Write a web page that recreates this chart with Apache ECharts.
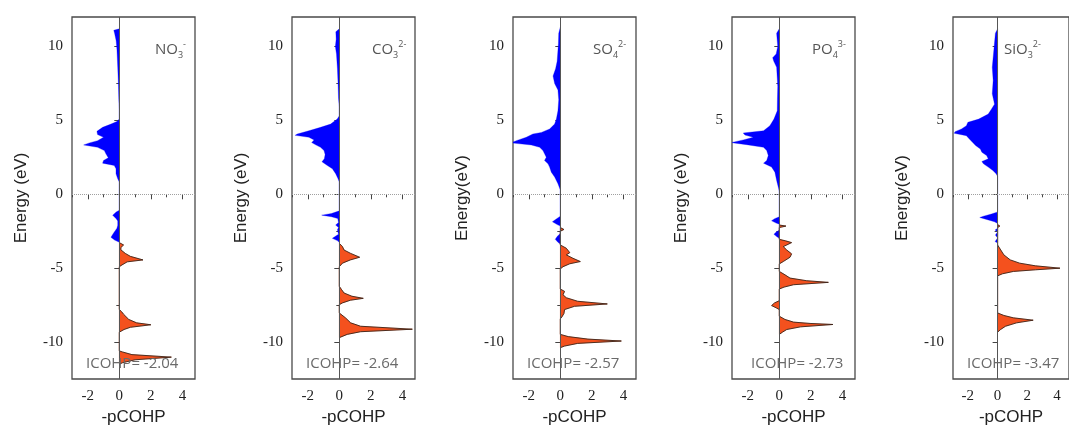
<!DOCTYPE html>
<html>
<head>
<meta charset="utf-8">
<script src="https://cdn.jsdelivr.net/npm/echarts@6/dist/echarts.min.js"></script>
<style>html,body{margin:0;padding:0;background:#fff;}#c{width:1069px;height:432px;}</style>
</head>
<body>
<div id="c"></div>
<script>
// ---- data: [ -pCOHP , Energy (eV) ] ----
const no3Blue = [[0,11.2],[-0.35,11.1],[-0.3,10.9],[-0.2,10.4],[-0.15,9.8],[-0.1,8.6],[-0.06,7.5],[-0.03,6.4],[0,5.7],
  [0,5.1],[-0.15,4.93],[-0.53,4.75],[-1.06,4.53],[-1.42,4.26],[-1.38,4.04],[-1.0,3.86],[-1.38,3.63],[-1.9,3.48],[-2.26,3.34],[-1.38,3.18],[-0.95,2.96],[-0.85,2.74],[-0.7,2.47],[-1.0,2.29],[-1.06,2.11],[-0.32,1.95],[-0.21,1.73],[-0.21,1.39],[-0.1,1.05],[0,0.83],
  [0,-1.08],[-0.2,-1.2],[-0.42,-1.41],[-0.2,-1.65],[-0.1,-1.8],[-0.1,-2.1],[-0.15,-2.3],[-0.35,-2.6],[-0.53,-2.91],[-0.3,-3.1],[0,-3.25]];
const no3Orange = [[0,-3.27],[0.27,-3.43],[0.1,-3.6],[0.1,-3.76],[0.38,-4.0],[0.7,-4.2],[1.5,-4.44],[0.5,-4.57],[0.17,-4.78],[0,-4.9],
  [0,-7.8],[0.15,-7.95],[0.28,-8.13],[0.6,-8.47],[1.1,-8.7],[2.0,-8.83],[0.7,-9.0],[0.3,-9.15],[0,-9.33],
  [0,-10.6],[0.2,-10.67],[0.8,-10.85],[3.3,-11.02],[1.0,-11.2],[0.2,-11.4],[0,-11.5]];

const co3Blue = [[0,11.2],[-0.22,11.0],[-0.2,10.5],[-0.25,10.0],[-0.18,9.5],[-0.12,8.5],[-0.08,7.5],[-0.05,6.5],[0,5.9],
  [0,5.31],[-0.13,5.09],[-0.55,4.75],[-1.19,4.53],[-1.93,4.3],[-2.67,4.08],[-2.8,3.99],[-1.93,3.86],[-1.6,3.68],[-1.75,3.5],[-1.5,3.35],[-1.19,3.18],[-0.97,2.96],[-0.9,2.7],[-0.95,2.4],[-1.1,2.2],[-0.76,1.95],[-0.44,1.73],[-0.23,1.39],[-0.08,1.05],[0,0.83],
  [0,-1.12],[-0.5,-1.3],[-1.12,-1.41],[-0.5,-1.52],[-0.1,-1.64],[-0.05,-1.9],[-0.23,-2.08],[-0.05,-2.25],[-0.12,-2.4],[-0.05,-2.7],[-0.44,-2.98],[-0.1,-3.15],[0,-3.27]];
const co3Orange = [[0,-3.32],[0.2,-3.54],[0.3,-3.77],[0.72,-4.0],[1.29,-4.26],[0.7,-4.44],[0.2,-4.66],[0,-4.9],
  [0,-6.23],[0.15,-6.46],[0.3,-6.68],[0.8,-6.9],[1.52,-7.04],[0.7,-7.17],[0.2,-7.35],[0,-7.47],
  [0,-8.03],[0.4,-8.37],[0.72,-8.7],[1.35,-8.93],[4.63,-9.13],[1.35,-9.3],[0.5,-9.48],[0,-9.7]];

const so4Blue = [[0,11.3],[-0.1,10.9],[-0.12,10.2],[-0.15,9.75],[-0.2,9.0],[-0.3,8.5],[-0.46,8.0],[-0.36,7.5],[-0.15,7.06],[-0.1,6.4],[-0.15,5.65],[-0.25,5.09],[-0.36,4.75],[-0.68,4.42],[-1.2,4.19],[-1.74,4.08],[-2.16,3.86],[-2.79,3.63],[-3.15,3.48],[-1.84,3.34],[-1.31,3.18],[-1.1,2.96],[-1.0,2.74],[-0.89,2.51],[-1.0,2.29],[-0.78,2.06],[-0.68,1.84],[-0.57,1.5],[-0.36,1.17],[-0.15,0.72],[0,0.29],
  [0,-1.48],[-0.3,-1.7],[-0.5,-1.86],[-0.2,-2.05],[0,-2.15],
  [0,-2.65],[-0.2,-2.85],[-0.32,-3.05],[-0.15,-3.25],[0,-3.36]];
const so4Orange = [[0,-2.25],[0.23,-2.38],[0,-2.5],
  [0,-3.43],[0.38,-3.65],[0.6,-3.95],[0.38,-4.1],[0.8,-4.33],[1.27,-4.55],[0.6,-4.7],[0.17,-4.9],[0,-5.05],
  [0,-6.41],[0.27,-6.57],[0.17,-6.8],[0.38,-7.0],[1.1,-7.24],[2.98,-7.42],[0.9,-7.58],[0.27,-7.8],[0.23,-8.07],[0.1,-8.3],[0,-8.43],
  [0,-9.48],[0.5,-9.63],[1.75,-9.8],[3.87,-9.93],[1.1,-10.09],[0.27,-10.27],[0,-10.38]];

const po4Blue = [[0,11.2],[-0.17,10.9],[-0.1,10.0],[-0.2,9.5],[-0.42,9.25],[-0.35,9.0],[-0.17,8.6],[-0.1,7.3],[-0.12,6.4],[-0.13,5.65],[-0.34,5.09],[-0.6,4.64],[-1.0,4.3],[-2.29,4.15],[-2.18,4.01],[-1.65,3.86],[-2.29,3.68],[-3.05,3.5],[-2.07,3.36],[-1.0,3.18],[-0.8,2.96],[-0.7,2.62],[-0.8,2.29],[-1.0,2.11],[-0.49,1.84],[-0.28,1.5],[-0.17,0.94],[-0.04,0.38],[0,0.16],
  [0,-1.52],[-0.3,-1.65],[-0.49,-1.79],[-0.2,-1.95],[0,-2.02],
  [0,-2.42],[-0.25,-2.6],[-0.34,-2.71],[-0.15,-2.88],[0,-2.98]];
const po4Orange = [[0,-2.08],[0.42,-2.15],[0,-2.25],
  [0,-3.05],[0.4,-3.15],[0.78,-3.27],[0.25,-3.54],[0.47,-3.77],[0.78,-4.03],[0.68,-4.26],[0.25,-4.55],[0,-4.71],
  [0,-5.22],[0.36,-5.45],[0.68,-5.67],[1.74,-5.85],[3.11,-5.96],[0.9,-6.12],[0.3,-6.28],[0,-6.41],
  [0,-7.2],[-0.3,-7.35],[-0.49,-7.53],[-0.2,-7.68],[0,-7.8],
  [0,-8.25],[0.36,-8.47],[0.9,-8.65],[1.95,-8.74],[3.4,-8.81],[1.35,-8.97],[0.47,-9.15],[0.2,-9.33],[0,-9.48]];

const sio3Blue = [[0,11.2],[-0.15,10.9],[-0.25,9.8],[-0.36,8.6],[-0.3,7.7],[-0.36,6.8],[-0.25,6.3],[-0.21,6.1],[-0.42,5.76],[-0.63,5.43],[-1.27,5.09],[-2.0,4.87],[-2.1,4.64],[-2.43,4.42],[-2.86,4.24],[-2.92,4.13],[-2.1,3.97],[-1.9,3.74],[-1.69,3.52],[-1.48,3.3],[-1.16,3.07],[-1.06,2.85],[-0.74,2.62],[-0.63,2.4],[-1.06,2.22],[-0.95,2.06],[-0.63,1.84],[-0.32,1.61],[-0.1,1.39],[0,1.21],
  [0,-1.19],[-0.42,-1.34],[-0.95,-1.48],[-1.2,-1.57],[-0.74,-1.7],[-0.21,-1.86],[0,-1.97],
  [0,-2.3],[-0.17,-2.42],[0,-2.55],[-0.15,-2.76],[0,-2.95],[-0.17,-3.2],[0,-3.3]];
const sio3Orange = [[0,-2.05],[0.15,-2.15],[0,-2.25],
  [0,-3.43],[0.21,-3.77],[0.42,-4.1],[0.85,-4.44],[1.48,-4.66],[2.54,-4.84],[4.19,-5.0],[2.54,-5.11],[1.06,-5.22],[0.32,-5.38],[0,-5.52],
  [0,-8.03],[0.42,-8.2],[1.06,-8.36],[2.39,-8.52],[1.27,-8.7],[0.53,-8.93],[0.2,-9.15],[0,-9.33]];

const panelIons = [
  ['NO', '3', '-'], ['CO', '3', '2-'], ['SO', '4', '2-'], ['PO', '4', '3-'], ['SiO', '3', '2-']
];
const icohpValues = ['-2.04', '-2.64', '-2.57', '-2.73', '-3.47'];
const yNames = ['Energy (eV)', 'Energy (eV)', 'Energy(eV)', 'Energy (eV)', 'Energy(eV)'];
const E_TICKS = [-10, -5, 0, 5, 10];
const E_MINOR = [-7.5, -2.5, 2.5, 7.5];
const P_TICKS = [-2, 0, 2, 4];
const P_MINOR = [-3, -1, 1, 3];

const blues = [no3Blue, co3Blue, so4Blue, po4Blue, sio3Blue];
const oranges = [no3Orange, co3Orange, so4Orange, po4Orange, sio3Orange];

// ---- layout ----
const LEFTS = [72, 292, 513, 732, 953];
const TOP = 17, W = 123, H = 362;
const X_MIN = -3, X_MAX = 4.8, Y_MIN = -12.5, Y_MAX = 12;
const BLUE = '#0000ff', ORANGE = '#f4511e', EDGE = '#3a2418';
const N = 5;

const grid = [], xAxis = [], yAxis = [], series = [], title = [];
for (let i = 0; i < N; i++) {
  grid.push({left: LEFTS[i], top: TOP, width: W, height: H, show: true,
    borderColor: '#4a4a4a', borderWidth: 1.3, backgroundColor: 'transparent'});
}
for (let i = 0; i < N; i++) {
  xAxis.push({type: 'value', gridIndex: i, min: X_MIN, max: X_MAX, position: 'bottom',
    axisLine: {show: false}, splitLine: {show: false},
    axisTick: {show: true, customValues: P_TICKS, length: 5, lineStyle: {color: '#444', width: 1}},
    axisLabel: {show: true, customValues: P_TICKS, margin: 10, color: '#222',
      fontFamily: 'Liberation Serif', fontSize: 15},
    name: '-pCOHP', nameLocation: 'middle', nameGap: 30,
    nameTextStyle: {fontFamily: 'Liberation Sans', fontSize: 17, color: '#222'}});
  yAxis.push({type: 'value', gridIndex: i, min: Y_MIN, max: Y_MAX, position: 'left',
    axisLine: {show: false}, splitLine: {show: false},
    axisTick: {show: true, customValues: E_TICKS, length: 5, lineStyle: {color: '#444', width: 1}},
    axisLabel: {show: true, customValues: E_TICKS, margin: 9, color: '#222',
      fontFamily: 'Liberation Serif', fontSize: 15},
    name: yNames[i], nameLocation: 'middle', nameGap: 42, nameRotate: 90,
    nameTextStyle: {fontFamily: 'Liberation Sans', fontSize: 17, color: '#222'}});
}
for (let i = 0; i < N; i++) {
  xAxis.push({type: 'value', gridIndex: i, min: X_MIN, max: X_MAX, position: 'bottom',
    axisLine: {show: false}, splitLine: {show: false}, axisLabel: {show: false},
    axisTick: {show: true, customValues: P_MINOR, length: 3, lineStyle: {color: '#444', width: 1}}});
  yAxis.push({type: 'value', gridIndex: i, min: Y_MIN, max: Y_MAX, position: 'left',
    axisLine: {show: false}, splitLine: {show: false}, axisLabel: {show: false},
    axisTick: {show: true, customValues: E_MINOR, length: 3, lineStyle: {color: '#444', width: 1}}});
}

function areaSeries(i, pts, fill, stroke) {
  return {
    type: 'custom', xAxisIndex: i, yAxisIndex: i, clip: true, silent: true, z: 2,
    data: pts, encode: {x: 0, y: 1},
    renderItem: function (params, api) {
      if (params.dataIndex !== 0) return null;
      const c = pts.map(function (p) { return api.coord(p); });
      const a = api.coord([0, pts[0][1]]);
      const b = api.coord([0, pts[pts.length - 1][1]]);
      const children = [{type: 'polygon', shape: {points: [a].concat(c, [b])},
        style: {fill: fill, stroke: fill, lineWidth: 0.3}}];
      if (stroke) {
        children.push({type: 'polyline', shape: {points: c},
          style: {stroke: stroke, lineWidth: 0.9, fill: null}});
      }
      return {type: 'group', children: children};
    }
  };
}

const subStyle = {fontFamily: 'Open Sans', fontWeight: 'normal', color: '#555'};
for (let i = 0; i < N; i++) {
  series.push(areaSeries(i, blues[i], BLUE, null));
  series.push(areaSeries(i, oranges[i], ORANGE, EDGE));
  series.push({type: 'line', xAxisIndex: i, yAxisIndex: i, data: [], silent: true, z: 5,
    markLine: {silent: true, symbol: 'none', label: {show: false}, animation: false,
      data: [
        {xAxis: 0, lineStyle: {color: '#555', width: 1, type: 'solid'}},
        {yAxis: 0, lineStyle: {color: '#a0a0a0', width: 1, type: 'dotted'}}
      ]}});
  const ion = panelIons[i];
  title.push({
    text: '{m|' + ion[0] + '}{sb|' + ion[1] + '}{sp|' + ion[2] + '}',
    left: LEFTS[i] + (i === 4 ? 46 : (i === 0 ? 78 : 75)), top: 35,
    textStyle: {fontWeight: 'normal', rich: {
      m: Object.assign({fontSize: 15, lineHeight: 20, verticalAlign: 'middle'}, subStyle),
      sb: Object.assign({fontSize: 9, lineHeight: 9, verticalAlign: 'bottom'}, subStyle),
      sp: Object.assign({fontSize: 9, lineHeight: 9, verticalAlign: 'top'}, subStyle)
    }}
  });
  title.push({
    text: 'ICOHP= ' + icohpValues[i],
    left: LEFTS[i] + (i === 3 ? 14 : 9), top: 351,
    textStyle: {fontFamily: 'Open Sans', fontSize: 15, fontWeight: 'normal', color: '#6a6a6a'}
  });
}

const chart = echarts.init(document.getElementById('c'), null, {renderer: 'canvas'});
chart.setOption({animation: false, backgroundColor: '#fff', title: title, grid: grid,
  xAxis: xAxis, yAxis: yAxis, series: series});
</script>
</body>
</html>
